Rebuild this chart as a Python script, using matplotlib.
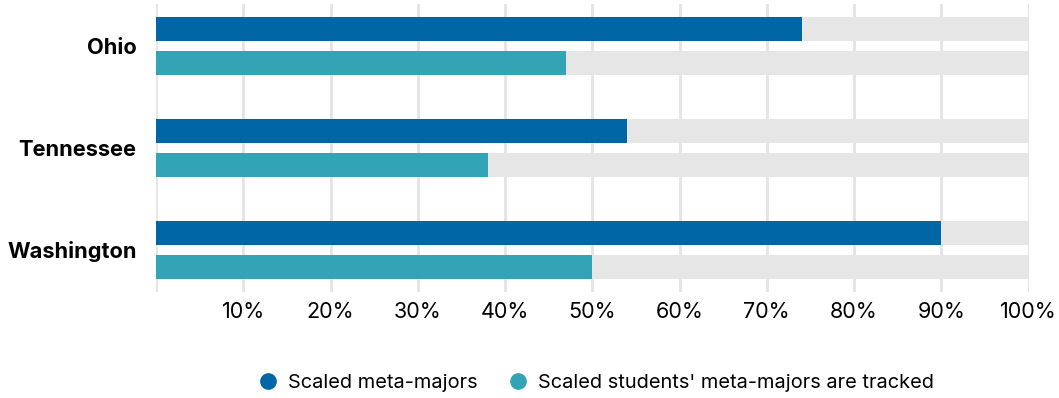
import matplotlib.pyplot as plt
from matplotlib.lines import Line2D
import numpy as np

plt.rcParams['font.family'] = ['Inter', 'DejaVu Sans']

states = ["Ohio", "Tennessee", "Washington"]
meta_majors = [74, 54, 90]
tracked = [47, 38, 50]
ticks = [10, 20, 30, 40, 50, 60, 70, 80, 90, 100]

dark = "#0066a6"
teal = "#33a3b6"
track = "#e6e6e6"

fig = plt.figure(figsize=(10.59, 3.98), dpi=100)
ax = fig.add_axes([156 / 1059, 1 - 292 / 398, (1028.5 - 156) / 1059, 288 / 398])

y = np.arange(len(states))
off = 17 / 102
h = 24 / 102

ax.barh(y - off, [100] * 3, height=h, color=track, zorder=2)
ax.barh(y + off, [100] * 3, height=h, color=track, zorder=2)
ax.barh(y - off, meta_majors, height=h, color=dark, zorder=3)
ax.barh(y + off, tracked, height=h, color=teal, zorder=3)

ax.set_xlim(0, 100)
ax.set_ylim(2.412, -0.412)
ax.set_xticks([0] + ticks)
ax.set_xticklabels([""] + [f"{t}%" for t in ticks], fontsize=15.5)
ax.xaxis.grid(True, color="#e3e3e3", linewidth=2, zorder=1)
ax.tick_params(axis="x", length=0, pad=7)
ax.set_yticks(y)
ax.set_yticklabels(states, fontsize=15.7, fontweight="bold")
ax.tick_params(axis="y", length=0, pad=14)
for s in ax.spines.values():
    s.set_visible(False)

handles = [
    Line2D([], [], marker="o", linestyle="", color=dark, markersize=11),
    Line2D([], [], marker="o", linestyle="", color=teal, markersize=11),
]
fig.legend(handles, ["Scaled meta-majors", "Scaled students' meta-majors are tracked"],
           loc="center", bbox_to_anchor=(591 / 1059, 1 - 383 / 398), ncol=2,
           frameon=False, fontsize=14.4, handletextpad=0.0, columnspacing=1.0)

fig.savefig("out.png", dpi=100)
